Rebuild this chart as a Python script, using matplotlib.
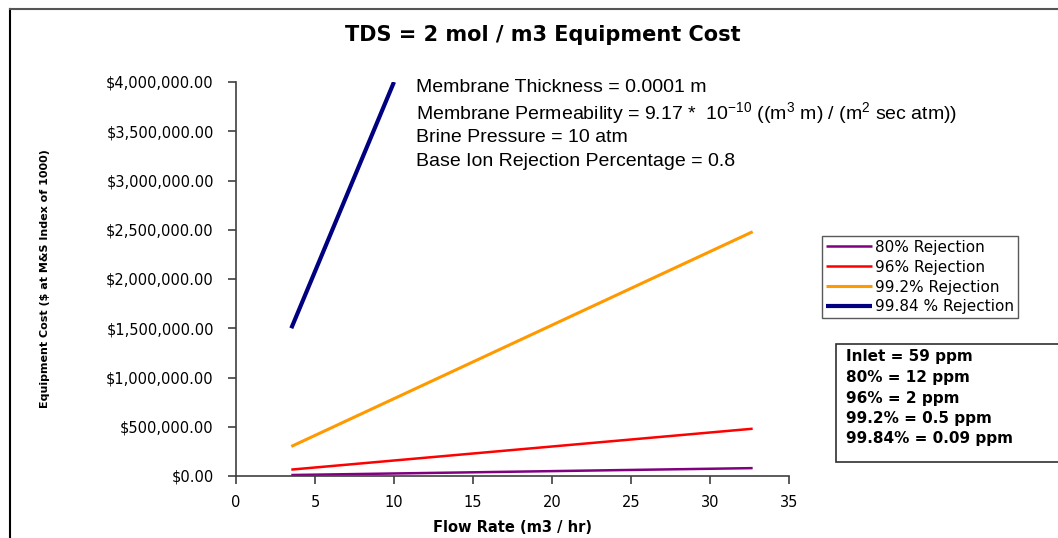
import matplotlib
matplotlib.use("Agg")
import matplotlib.pyplot as plt
from matplotlib.ticker import FuncFormatter, MultipleLocator
from matplotlib.lines import Line2D
from matplotlib.patches import Rectangle

plt.rcParams["mathtext.fontset"] = "custom"
plt.rcParams["mathtext.rm"] = "Liberation Sans"
plt.rcParams["mathtext.it"] = "Liberation Sans"
plt.rcParams["mathtext.default"] = "regular"

# Flow rate (m3/hr) and equipment cost ($) for each rejection level
flow_short = [3.5, 10.0]
flow_long = [3.5, 32.7]
cost_80 = [10000, 80000]
cost_96 = [65000, 480000]
cost_992 = [300000, 2480000]
cost_9984 = [1500000, 4000000]

series_labels = ["80% Rejection", "96% Rejection", "99.2% Rejection", "99.84 % Rejection"]

param_lines = [
    "Membrane Thickness = 0.0001 m",
    "Membrane Permeability = 9.17 *  10$^{-10}$ ((m$^3$ m) / (m$^2$ sec atm))",
    "Brine Pressure = 10 atm",
    "Base Ion Rejection Percentage = 0.8",
]
ppm_lines = [
    "Inlet = 59 ppm",
    "80% = 12 ppm",
    "96% = 2 ppm",
    "99.2% = 0.5 ppm",
    "99.84% = 0.09 ppm",
]

W, H = 1058, 538
fig = plt.figure(figsize=(W / 100, H / 100), dpi=100)
fig.patch.set_facecolor("white")


def fx(px):
    return px / W


def fy(py):
    return 1 - py / H


ax = fig.add_axes([fx(236), fy(476), fx(789) - fx(236), fy(82) - fy(476)])

ax.plot(flow_long, cost_80, color="#800080", lw=1.8, label=series_labels[0], solid_capstyle="butt")
ax.plot(flow_long, cost_96, color="#FF0000", lw=1.8, label=series_labels[1], solid_capstyle="butt")
ax.plot(flow_long, cost_992, color="#FF9900", lw=2.2, label=series_labels[2], solid_capstyle="butt")
ax.plot(flow_short, cost_9984, color="#000080", lw=3.0, label=series_labels[3], solid_capstyle="butt")

ax.set_xlim(0, 35)
ax.set_ylim(0, 4000000)
ax.xaxis.set_major_locator(MultipleLocator(5))
ax.yaxis.set_major_locator(MultipleLocator(500000))
ax.yaxis.set_major_formatter(FuncFormatter(lambda v, p: "\\$" + f"{v:,.2f}"))

for side in ("top", "right"):
    ax.spines[side].set_visible(False)
for side in ("left", "bottom"):
    ax.spines[side].set_color("#404040")
    ax.spines[side].set_linewidth(1.2)
ax.tick_params(axis="both", direction="out", length=6, width=1.2, color="#404040",
               labelsize=10.5, labelcolor="black")
ax.tick_params(axis="y", pad=10)
ax.tick_params(axis="x", pad=8)
ax.patch.set_alpha(0)

ax.set_xlabel("Flow Rate (m3 / hr)", fontsize=10.5, fontweight="bold", labelpad=7)

fig.text(fx(45), fy(279), "Equipment Cost (\\$ at M&S Index of 1000)", rotation=90,
         fontsize=8, fontweight="bold", ha="center", va="center")

fig.text(fx(543), fy(35), "TDS = 2 mol / m3 Equipment Cost", fontsize=15,
         fontweight="bold", ha="center", va="center")

# Process parameters
for i, line in enumerate(param_lines):
    fig.text(fx(416), fy(88 + 24.6 * i), line, fontsize=14, family="Liberation Sans",
             ha="left", va="center")

# Series legend
leg = fig.legend(loc="upper left", bbox_to_anchor=(fx(822), fy(236)), fontsize=11,
                 frameon=True, fancybox=False, handlelength=3.0, handletextpad=0.2,
                 borderpad=0.25, labelspacing=0.32, borderaxespad=0)
leg.get_frame().set_edgecolor("#303030")
leg.get_frame().set_linewidth(1.0)

# Product concentration box
box = Rectangle((fx(836), fy(462)), fx(240), fy(344) - fy(462), transform=fig.transFigure,
                facecolor="white", edgecolor="#303030", linewidth=1.2)
fig.add_artist(box)
for i, line in enumerate(ppm_lines):
    fig.text(fx(846), fy(357 + 20.5 * i), line, fontsize=11, fontweight="bold",
             ha="left", va="center")

# Outer chart frame
fig.add_artist(Line2D([fx(10), fx(10)], [0, fy(9)], transform=fig.transFigure,
                      color="black", lw=1.5))
fig.add_artist(Line2D([fx(10), 1], [fy(9), fy(9)], transform=fig.transFigure,
                      color="#555555", lw=1.5))

fig.savefig("out.png", dpi=100)
